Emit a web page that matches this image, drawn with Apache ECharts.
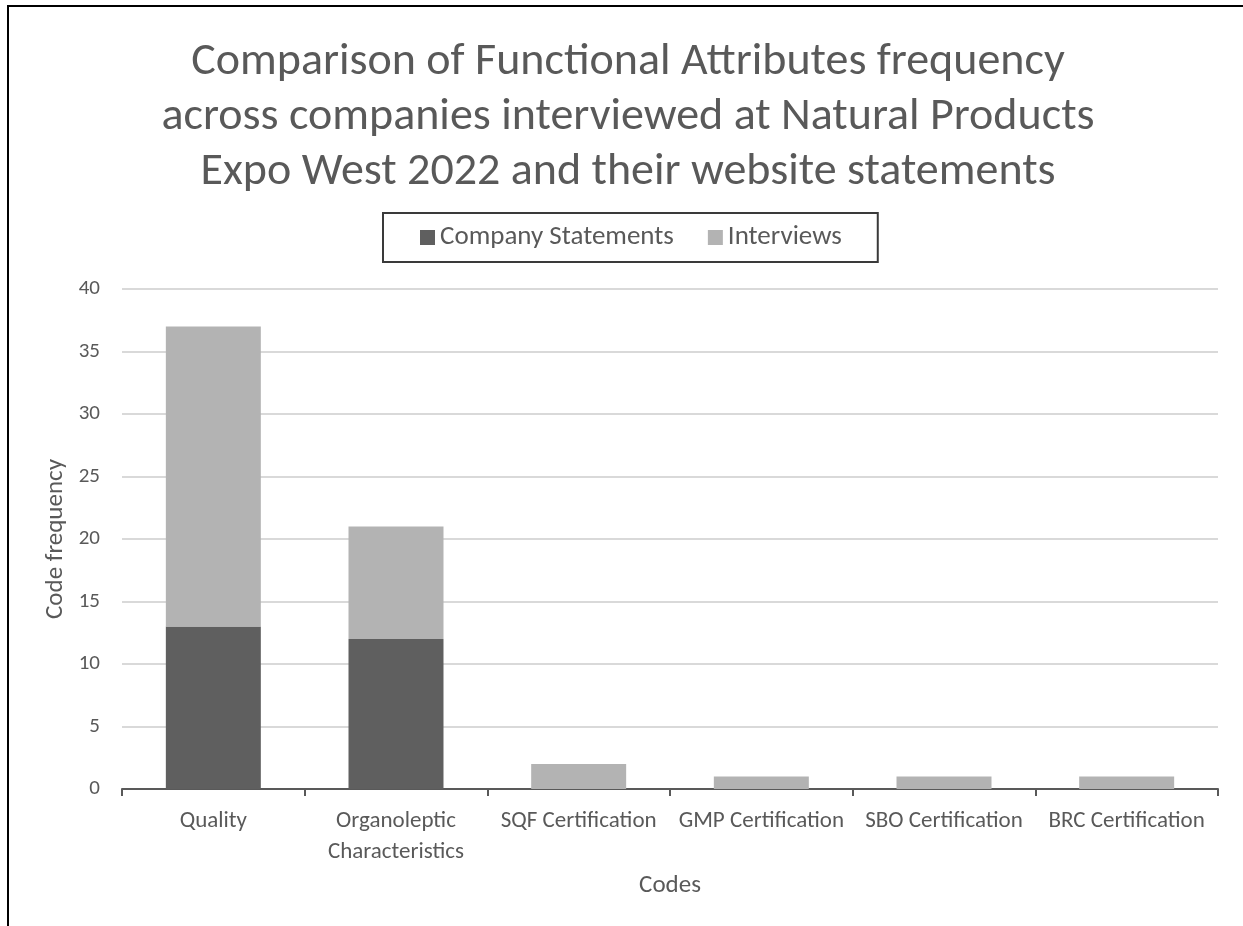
<!DOCTYPE html>
<html>
<head>
<meta charset="utf-8">
<script src="https://cdn.jsdelivr.net/npm/echarts@6/dist/echarts.min.js"></script>
<style>
  html, body { margin: 0; padding: 0; background: #fff; }
  #chart { width: 1243px; height: 926px; }
</style>
</head>
<body>
<div id="chart"></div>
<script>
// Code categories along the x axis
const categories = [
  'Quality',
  'Organoleptic\nCharacteristics',
  'SQF Certification',
  'GMP Certification',
  'SBO Certification',
  'BRC Certification'
];
// Stacked segment values per category
const companyStatements = [13, 12, 0, 0, 0, 0];
const interviews = [24, 9, 2, 1, 1, 1];
// Value axis ticks
const yTicks = [0, 5, 10, 15, 20, 25, 30, 35, 40];

const textColor = '#595959';
const fontFamily = 'Carlito, Lato, "Open Sans", sans-serif';

const chart = echarts.init(document.getElementById('chart'), null, { renderer: 'canvas' });

chart.setOption({
  backgroundColor: '#ffffff',
  animation: false,
  textStyle: { fontFamily: fontFamily, color: textColor },
  title: {
    text: 'Comparison of Functional Attributes frequency\nacross companies interviewed at Natural Products\nExpo West 2022 and their website statements',
    left: 623,
    textAlign: 'center',
    top: 30,
    textStyle: {
      fontFamily: fontFamily,
      fontSize: 46,
      fontWeight: 'normal',
      color: textColor,
      lineHeight: 55
    }
  },
  legend: {
    top: 213,
    left: 383,
    data: ['Company Statements', 'Interviews'],
    icon: 'rect',
    itemWidth: 15,
    itemHeight: 15,
    itemGap: 34,
    borderColor: '#3a3a3a',
    borderWidth: 2,
    padding: [10, 36, 10, 37],
    textStyle: { fontFamily: fontFamily, fontSize: 27, color: textColor, lineHeight: 29 }
  },
  grid: {
    left: 122,
    right: 25,
    top: 289,
    bottom: 137
  },
  xAxis: {
    type: 'category',
    data: categories,
    name: 'Codes',
    nameLocation: 'middle',
    nameGap: 84,
    nameTextStyle: { fontFamily: fontFamily, fontSize: 25, color: textColor },
    axisLine: { lineStyle: { color: '#595959', width: 2 } },
    axisTick: { show: true, length: 7, lineStyle: { color: '#595959', width: 2 } },
    axisLabel: {
      interval: 0,
      margin: 17,
      fontFamily: fontFamily,
      fontSize: 23,
      color: textColor,
      lineHeight: 31
    }
  },
  yAxis: {
    type: 'value',
    min: yTicks[0],
    max: yTicks[yTicks.length - 1],
    interval: yTicks[1] - yTicks[0],
    name: 'Code frequency',
    nameLocation: 'middle',
    nameGap: 51,
    nameRotate: 90,
    nameTextStyle: { fontFamily: fontFamily, fontSize: 25, color: textColor },
    axisLine: { show: false },
    axisTick: { show: false },
    axisLabel: { margin: 22, fontFamily: fontFamily, fontSize: 21, color: textColor },
    splitLine: { lineStyle: { color: '#d9d9d9', width: 2 } }
  },
  series: [
    {
      name: 'Company Statements',
      type: 'bar',
      stack: 'total',
      barWidth: '52%',
      itemStyle: { color: '#5f5f5f' },
      data: companyStatements
    },
    {
      name: 'Interviews',
      type: 'bar',
      stack: 'total',
      barWidth: '52%',
      itemStyle: { color: '#b3b3b3' },
      data: interviews
    }
  ],
  graphic: [
    // frame lines on the left and top edges of the chart area
    { type: 'line', shape: { x1: 8, y1: 5, x2: 8, y2: 926 }, style: { stroke: '#000', lineWidth: 2 } },
    { type: 'line', shape: { x1: 7, y1: 6, x2: 1243, y2: 6 }, style: { stroke: '#000', lineWidth: 2 } }
  ]
});
</script>
</body>
</html>
